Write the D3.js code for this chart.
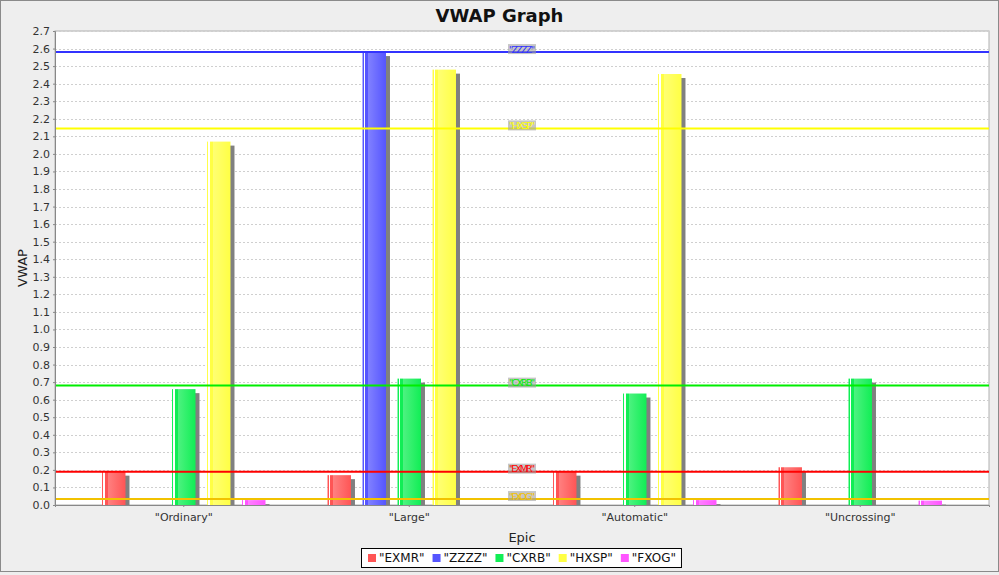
<!DOCTYPE html>
<html>
<head>
<meta charset="utf-8">
<script src="https://cdn.jsdelivr.net/npm/d3@7"></script>
<style>
  body { margin: 0; background: #eeeeee; }
  text { font-family: "Lucida Grande", "DejaVu Sans", sans-serif; }
</style>
</head>
<body>
<div id="chart"></div>
<script>
var categories = ['"Ordinary"', '"Large"', '"Automatic"', '"Uncrossing"'];
var series = ['"EXMR"', '"ZZZZ"', '"CXRB"', '"HXSP"', '"FXOG"'];
var colors = ['#ff5555', '#5555ff', '#11ee55', '#ffff44', '#ff55ff'];
var markerColors = ['#ff0000', '#3333ff', '#00ee00', '#ffff00', '#f2c200'];
// values per series, in category order (null = no bar)
var exmr = [0.19, 0.17, 0.19, 0.215];
var zzzz = [null, 2.58, null, null];
var cxrb = [0.66, 0.72, 0.635, 0.72];
var hxsp = [2.07, 2.48, 2.455, null];
var fxog = [0.028, null, 0.028, 0.025];
// horizontal marker values per series
var markers = [0.19, 2.58, 0.68, 2.145, 0.034];
var yTicks = d3.range(0, 28).map(function(d) { return d / 10; });

var values = [exmr, zzzz, cxrb, hxsp, fxog];

var width = 999, height = 575;
var plot = { left: 55, right: 989, top: 31, bottom: 505 };

var svg = d3.select('#chart')
  .append('svg')
  .attr('width', width)
  .attr('height', height);

svg.append('rect')
  .attr('x', 0.5).attr('y', 0.5)
  .attr('width', width - 1).attr('height', height - 4)
  .attr('fill', '#eeeeee')
  .attr('stroke', '#8a8a8a');

var x0 = d3.scaleBand()
  .domain(categories)
  .range([plot.left, plot.right])
  .paddingOuter(0.071);
var x1 = d3.scaleBand()
  .domain(series)
  .range([0, x0.bandwidth()])
  .paddingInner(0.33)
  .paddingOuter(0.886);
var y = d3.scaleLinear()
  .domain([0, 2.7])
  .range([plot.bottom, plot.top]);

// plot background
svg.append('rect')
  .attr('x', plot.left).attr('y', plot.top)
  .attr('width', plot.right - plot.left)
  .attr('height', plot.bottom - plot.top)
  .attr('fill', '#ffffff')
  .attr('stroke', '#b0b0b0');

// gridlines
svg.append('g').selectAll('line')
  .data(yTicks.slice(1))
  .enter()
  .append('line')
  .attr('x1', plot.left).attr('x2', plot.right)
  .attr('y1', function(d) { return Math.round(y(d)) + 0.5; })
  .attr('y2', function(d) { return Math.round(y(d)) + 0.5; })
  .attr('stroke', '#cfcfcf')
  .attr('stroke-dasharray', '2,2');

// bars
var bars = [];
values.forEach(function(vals, s) {
  vals.forEach(function(v, c) {
    if (v !== null) bars.push({ s: s, c: c, v: v });
  });
});

var defs = svg.append('defs');
colors.forEach(function(col, i) {
  var g = defs.append('linearGradient').attr('id', 'grad' + i);
  var light = d3.interpolateRgb(col, '#ffffff')(0.25);
  g.append('stop').attr('offset', '0%').attr('stop-color', col);
  g.append('stop').attr('offset', '6%').attr('stop-color', col);
  g.append('stop').attr('offset', '6%').attr('stop-color', '#ffffff');
  g.append('stop').attr('offset', '12%').attr('stop-color', '#ffffff');
  g.append('stop').attr('offset', '12%').attr('stop-color', col);
  g.append('stop').attr('offset', '25%').attr('stop-color', col);
  g.append('stop').attr('offset', '25%').attr('stop-color', light);
  g.append('stop').attr('offset', '100%').attr('stop-color', col);
});

function barX(d) { return x0(categories[d.c]) + x1(series[d.s]); }

var barG = svg.append('g');
barG.selectAll('rect.shadow')
  .data(bars)
  .enter()
  .append('rect')
  .attr('class', 'shadow')
  .attr('x', function(d) { return barX(d) + 4; })
  .attr('y', function(d) { return y(d.v) + 4; })
  .attr('width', x1.bandwidth())
  .attr('height', function(d) { return Math.max(0, plot.bottom - y(d.v) - 4); })
  .attr('fill', '#808080');
barG.selectAll('rect.bar')
  .data(bars)
  .enter()
  .append('rect')
  .attr('class', 'bar')
  .attr('x', barX)
  .attr('y', function(d) { return y(d.v); })
  .attr('width', x1.bandwidth())
  .attr('height', function(d) { return plot.bottom - y(d.v); })
  .attr('fill', function(d) { return 'url(#grad' + d.s + ')'; });

// markers
var mk = svg.append('g');
markers.forEach(function(m, i) {
  var yy = y(m);
  mk.append('line')
    .attr('x1', plot.left).attr('x2', plot.right)
    .attr('y1', yy).attr('y2', yy)
    .attr('stroke', markerColors[i])
    .attr('stroke-width', 2);
  var cx = (plot.left + plot.right) / 2;
  mk.append('rect')
    .attr('x', cx - 14).attr('y', yy - 8)
    .attr('width', 28).attr('height', 10)
    .attr('fill', '#a0a0a0')
    .attr('fill-opacity', 0.6);
  mk.append('text')
    .attr('x', cx).attr('y', yy + 0.5)
    .attr('text-anchor', 'middle')
    .attr('font-size', 9.5)
    .attr('textLength', 26)
    .attr('fill', markerColors[i])
    .text(series[i]);
});

// axes
var yAxis = svg.append('g')
  .attr('transform', 'translate(' + plot.left + ',0)')
  .call(d3.axisLeft(y).tickValues(yTicks).tickFormat(d3.format('.1f')).tickSize(2).tickPadding(3));
yAxis.select('.domain').attr('stroke', '#888888');
yAxis.selectAll('.tick line').attr('stroke', '#888888');
yAxis.selectAll('text').attr('font-size', 11).attr('fill', '#333333').attr('font-family', '"Lucida Grande", "DejaVu Sans", sans-serif');

var xAxis = svg.append('g')
  .attr('transform', 'translate(0,' + plot.bottom + ')')
  .call(d3.axisBottom(x0).tickSize(2).tickPadding(6));
xAxis.select('.domain').attr('stroke', '#888888');
xAxis.selectAll('.tick line').attr('stroke', '#888888');
xAxis.selectAll('text').attr('font-size', 11).attr('fill', '#333333').attr('font-family', '"Lucida Grande", "DejaVu Sans", sans-serif');

// titles
svg.append('text')
  .attr('x', width / 2).attr('y', 22)
  .attr('text-anchor', 'middle')
  .attr('font-size', 18).attr('font-weight', 'bold')
  .attr('fill', '#111')
  .text('VWAP Graph');
svg.append('text')
  .attr('x', (plot.left + plot.right) / 2).attr('y', 542)
  .attr('text-anchor', 'middle')
  .attr('font-size', 13).attr('fill', '#222')
  .text('Epic');
svg.append('text')
  .attr('transform', 'translate(27,' + ((plot.top + plot.bottom) / 2) + ') rotate(-90)')
  .attr('text-anchor', 'middle')
  .attr('font-size', 13).attr('fill', '#222')
  .text('VWAP');

// legend
var legend = svg.append('g');
var box = legend.append('rect')
  .attr('y', 548.5).attr('height', 19)
  .attr('fill', '#ffffff').attr('stroke', '#000000');
var lx = 0;
series.forEach(function(s, i) {
  legend.append('rect')
    .attr('x', lx).attr('y', 554)
    .attr('width', 8).attr('height', 8)
    .attr('fill', colors[i]);
  var t = legend.append('text')
    .attr('x', lx + 11).attr('y', 562)
    .attr('font-size', 12).attr('fill', '#111')
    .text(s);
  lx += 11 + t.node().getComputedTextLength() + 8;
});
var total = lx - 8;
var start = Math.round((plot.left + plot.right) / 2 - total / 2);
legend.selectAll('rect, text').filter(function() { return this !== box.node(); })
  .attr('transform', 'translate(' + start + ',0)');
box.attr('x', start - 6.5).attr('width', total + 12);
</script>
</body>
</html>
